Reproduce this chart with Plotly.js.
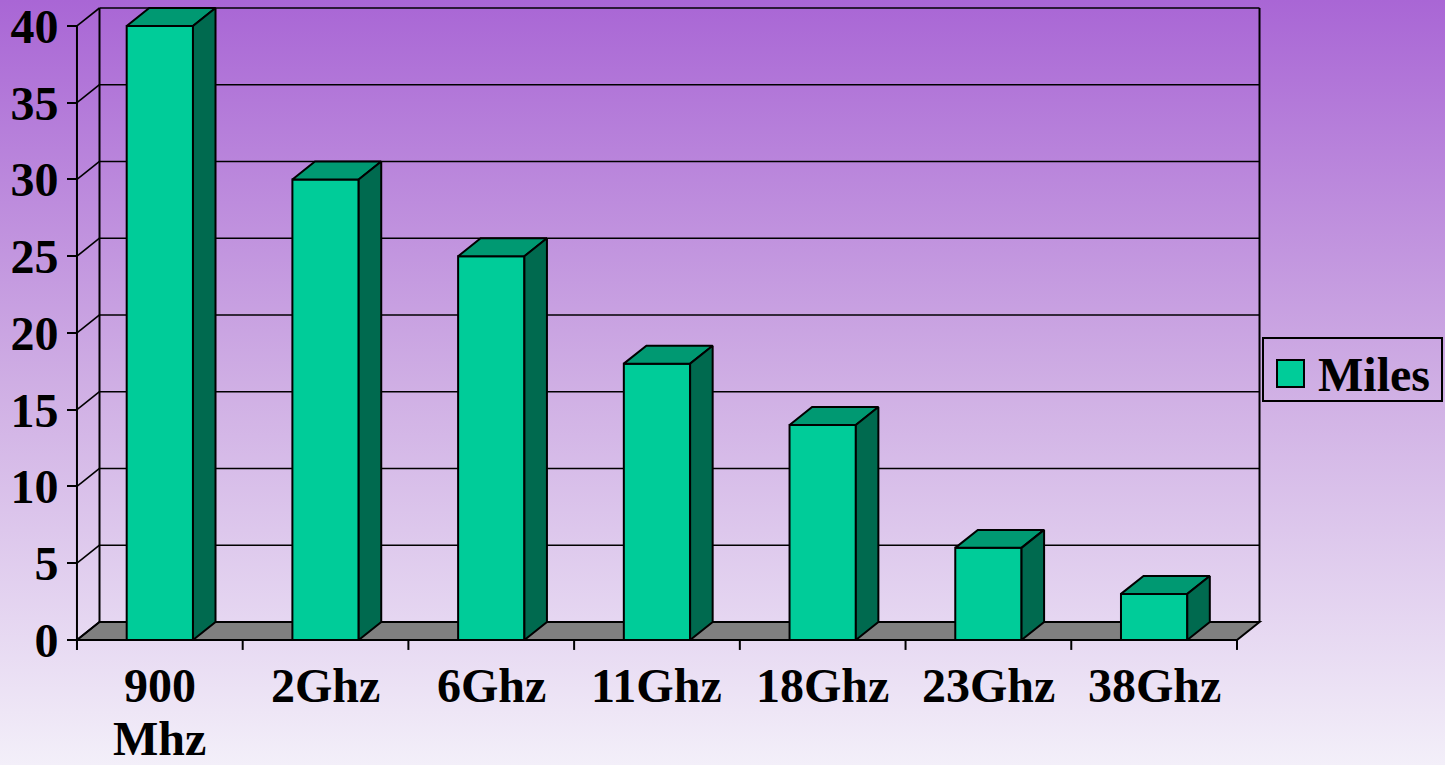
<!DOCTYPE html>
<html><head><meta charset="utf-8">
<script src="https://cdn.plot.ly/plotly-3.0.1.min.js"></script>
<style>
html,body{margin:0;padding:0;width:1445px;height:765px;overflow:hidden;
background:linear-gradient(to bottom,#a966d5 0%,#cfaee4 50%,#f3eff9 100%);}
#chart{width:1445px;height:765px;}
</style>
</head><body><div id="chart"></div>
<script>
// ---- data ----
const categories = ["900<br>Mhz", "2Ghz", "6Ghz", "11Ghz", "18Ghz", "23Ghz", "38Ghz"];
const miles = [40, 30, 25, 18, 14, 6, 3];
const yTicks = [0, 5, 10, 15, 20, 25, 30, 35, 40];
const seriesName = "Miles";

// ---- geometry / style ----
const W = 1445, H = 765;
const M = {l: 72, r: 182, t: 6, b: 113};
const plotW = W - M.l - M.r, plotH = H - M.t - M.b;
const XR = [-0.530, 6.657];
const YR = [-0.785, 41.30];
const DX = 0.136, DY = 1.17;   // depth of the 3D box, in axis units
const BW = 0.4;
const FRONT = '#00CC99', TOP = '#009972', SIDE = '#006A4F';
const FONT = {family: 'Liberation Serif, Times New Roman, serif', size: 48, color: '#000', weight: 'bold'};
const px2x = px => (px - M.l) / plotW;
const py2y = py => 1 - (py - M.t) / plotH;

const xs = categories.map((c, i) => i);
const nCat = categories.length;
const yMax = yTicks[yTicks.length - 1];
const xL = -0.5, xRt = nCat - 0.5;

// ---- traces ----
const traces = [];
traces.push({
  type: 'bar', x: xs, y: miles, width: BW, name: seriesName,
  marker: {color: FRONT, line: {color: '#000', width: 2}},
  hoverinfo: 'skip', showlegend: false
});
const topX = [], topY = [], sideX = [], sideY = [];
miles.forEach((v, i) => {
  const x0 = xs[i] - BW / 2, x1 = xs[i] + BW / 2;
  topX.push(x0, x1, x1 + DX, x0 + DX, x0, null);
  topY.push(v, v, v + DY, v + DY, v, null);
  sideX.push(x1, x1 + DX, x1 + DX, x1, x1, null);
  sideY.push(0, DY, v + DY, v, 0, null);
});
traces.push({type: 'scatter', mode: 'lines', x: topX, y: topY, fill: 'toself', fillcolor: TOP,
  line: {color: '#000', width: 2}, hoverinfo: 'skip', showlegend: false, connectgaps: false});
traces.push({type: 'scatter', mode: 'lines', x: sideX, y: sideY, fill: 'toself', fillcolor: SIDE,
  line: {color: '#000', width: 2}, hoverinfo: 'skip', showlegend: false, connectgaps: false});

// ---- frame shapes ----
const shapes = [];
const ln = (x0, y0, x1, y1, w) => shapes.push({type: 'line', xref: 'x', yref: 'y', x0, y0, x1, y1,
  layer: 'below', line: {color: '#000', width: w || 2}});
// floor
shapes.push({type: 'path', xref: 'x', yref: 'y', layer: 'below',
  path: `M${xL},0 L${xRt},0 L${xRt + DX},${DY} L${xL + DX},${DY} Z`,
  fillcolor: '#808080', line: {color: '#000', width: 2}});
// back wall gridlines and left wall diagonals
yTicks.forEach(v => {
  if (v > 0) ln(xL + DX, v + DY, xRt + DX, v + DY, 1.6);
  ln(xL, v, xL + DX, v + DY, 1.6);
});
ln(xL + DX, DY, xL + DX, yMax + DY, 2);
ln(xRt + DX, DY, xRt + DX, yMax + DY, 2);
// front vertical axis line
ln(xL, -0.651, xL, yMax, 2);
// x tick marks at category boundaries
for (let k = 0; k <= nCat; k++) ln(xL + k, 0, xL + k, -0.651, 2);

// legend (manual, large swatch)
shapes.push({type: 'rect', xref: 'paper', yref: 'paper', x0: px2x(1263), x1: px2x(1442),
  y0: py2y(401), y1: py2y(338), line: {color: '#000', width: 2}, fillcolor: 'rgba(0,0,0,0)'});
shapes.push({type: 'rect', xref: 'paper', yref: 'paper', x0: px2x(1277), x1: px2x(1304),
  y0: py2y(387), y1: py2y(360), line: {color: '#000', width: 2}, fillcolor: FRONT});

// ---- annotations: x labels + legend text ----
const annotations = [];
categories.forEach((c, i) => {
  c.split('<br>').forEach((line, k) => {
    annotations.push({xref: 'x', yref: 'paper', x: xs[i], y: 0, yanchor: 'top', xanchor: 'center',
      yshift: -10 - k * 53, height: 44, valign: 'middle', borderpad: 0,
      text: line, showarrow: false, font: FONT});
  });
});
annotations.push({xref: 'paper', yref: 'paper', x: px2x(1317), y: py2y(374), xanchor: 'left',
  yanchor: 'middle', borderpad: 0, text: seriesName, showarrow: false, font: FONT});

const layout = {
  width: W, height: H, margin: M,
  paper_bgcolor: 'rgba(0,0,0,0)', plot_bgcolor: 'rgba(0,0,0,0)',
  showlegend: false, bargap: 0,
  xaxis: {range: XR, showgrid: false, zeroline: false, showline: false, showticklabels: false,
    ticks: '', fixedrange: true},
  yaxis: {range: YR, anchor: 'free', position: px2x(77), showgrid: false, zeroline: false,
    showline: false, ticks: 'outside', ticklen: 10, tickwidth: 2, tickcolor: '#000',
    ticklabelstandoff: -1, ticklabeloverflow: 'allow',
    tickvals: yTicks, ticktext: yTicks.map(String), tickfont: FONT, fixedrange: true},
  shapes, annotations, hovermode: false
};
Plotly.newPlot('chart', traces, layout, {displayModeBar: false, staticPlot: true});
</script>
</body></html>
